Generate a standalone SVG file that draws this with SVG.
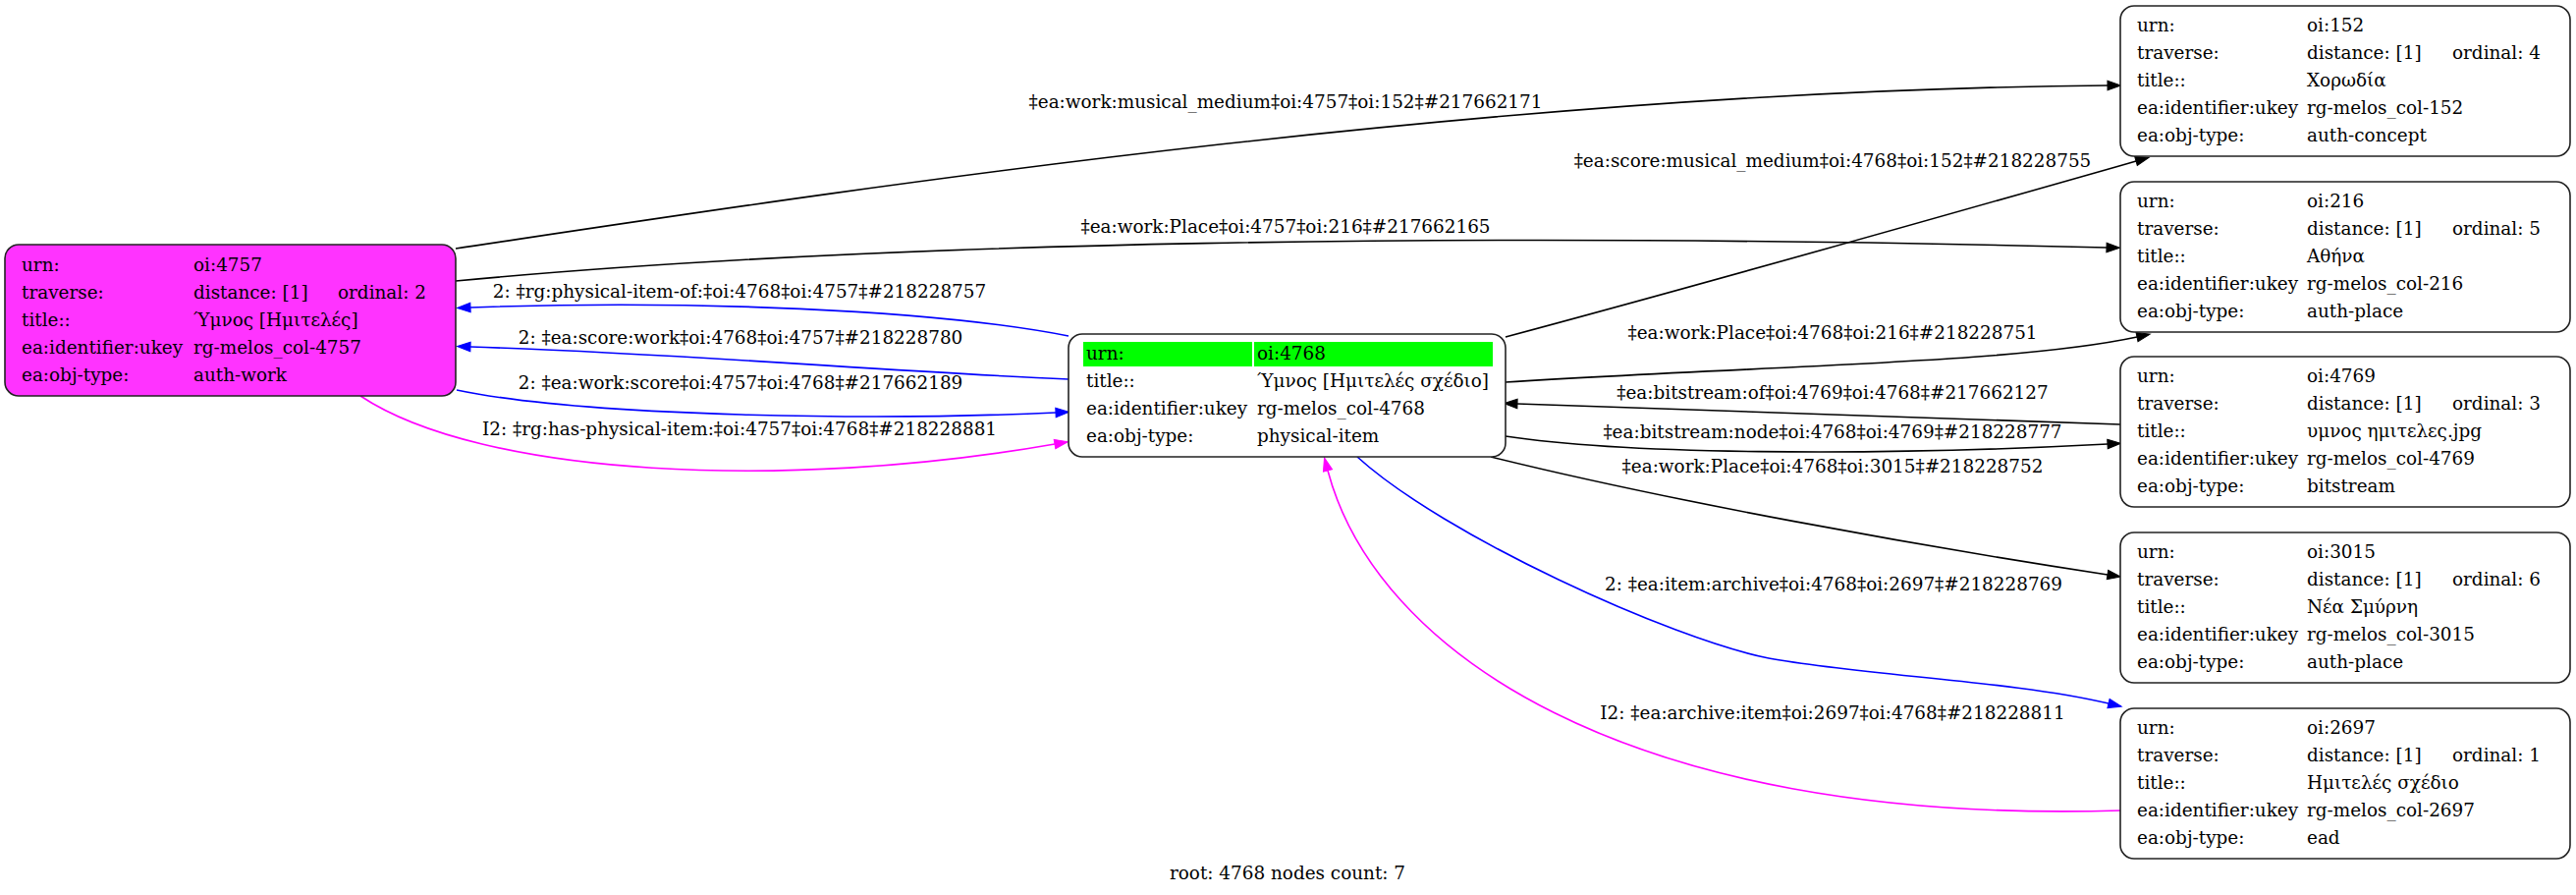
<svg xmlns="http://www.w3.org/2000/svg" width="2623" height="911" viewBox="0 0 2623 911">
<style>
text{font-family:"DejaVu Serif","Liberation Serif",serif;font-size:18.4px;fill:#000}
.box{fill:#fff;stroke:#222;stroke-width:1.6}
.e{fill:none;stroke-width:1.6}
.k{stroke:#000}.b{stroke:#00f}.m{stroke:#f0f}
.lbl{text-anchor:middle}
</style>
<defs>
<marker id="ak" markerUnits="userSpaceOnUse" markerWidth="14" markerHeight="10" refX="0" refY="4.7" orient="auto" overflow="visible"><path d="M0,0L13.5,4.7L0,9.4z" fill="#000" stroke="#000"/></marker>
<marker id="ab" markerUnits="userSpaceOnUse" markerWidth="14" markerHeight="10" refX="0" refY="4.7" orient="auto" overflow="visible"><path d="M0,0L13.5,4.7L0,9.4z" fill="#00f" stroke="#00f"/></marker>
<marker id="am" markerUnits="userSpaceOnUse" markerWidth="14" markerHeight="10" refX="0" refY="4.7" orient="auto" overflow="visible"><path d="M0,0L13.5,4.7L0,9.4z" fill="#f0f" stroke="#f0f"/></marker>
</defs>
<rect width="2623" height="911" fill="#fff"/>
<g id="connectors">
<path class="e k" d="M464,253 C800,203 1500,92 2146,87" marker-end="url(#ak)"/>
<text class="lbl" x="1309" y="110">‡ea:work:musical_medium‡oi:4757‡oi:152‡#217662171</text>
<path class="e k" d="M464,286 C900,245 1500,236 2145,252" marker-end="url(#ak)"/>
<text class="lbl" x="1309" y="237">‡ea:work:Place‡oi:4757‡oi:216‡#217662165</text>
<path class="e b" d="M1088,342 C950,315 700,305 479,313" marker-end="url(#ab)"/>
<text class="lbl" x="753" y="303">2: ‡rg:physical-item-of:‡oi:4768‡oi:4757‡#218228757</text>
<path class="e b" d="M1088,386 C900,378 700,360 479,353" marker-end="url(#ab)"/>
<text class="lbl" x="754" y="350">2: ‡ea:score:work‡oi:4768‡oi:4757‡#218228780</text>
<path class="e b" d="M465,397 C600,425 900,428 1075,420" marker-end="url(#ab)"/>
<text class="lbl" x="754" y="396">2: ‡ea:work:score‡oi:4757‡oi:4768‡#217662189</text>
<path class="e m" d="M367,403 C490,485 800,500 1074,452" marker-end="url(#am)"/>
<text class="lbl" x="753" y="443">I2: ‡rg:has-physical-item:‡oi:4757‡oi:4768‡#218228881</text>
<path class="e k" d="M1533,343 C1750,285 1950,228 2175,164" marker-end="url(#ak)"/>
<text class="lbl" x="1866" y="170">‡ea:score:musical_medium‡oi:4768‡oi:152‡#218228755</text>
<path class="e k" d="M1533,389 C1800,372 2050,370 2176,343" marker-end="url(#ak)"/>
<text class="lbl" x="1866" y="345">‡ea:work:Place‡oi:4768‡oi:216‡#218228751</text>
<path class="e k" d="M2159,432 C1900,424 1700,415 1545,411" marker-end="url(#ak)"/>
<text class="lbl" x="1866" y="406">‡ea:bitstream:of‡oi:4769‡oi:4768‡#217662127</text>
<path class="e k" d="M1533,444 C1650,462 1900,465 2146,452" marker-end="url(#ak)"/>
<text class="lbl" x="1866" y="446">‡ea:bitstream:node‡oi:4768‡oi:4769‡#218228777</text>
<path class="e k" d="M1518,465 C1700,510 1950,555 2146,585" marker-end="url(#ak)"/>
<text class="lbl" x="1866" y="481">‡ea:work:Place‡oi:4768‡oi:3015‡#218228752</text>
<path class="e b" d="M1382,465 C1470,545 1701,650 1801,670 C1900,688 2050,693 2147,716" marker-end="url(#ab)"/>
<text class="lbl" x="1867" y="601">2: ‡ea:item:archive‡oi:4768‡oi:2697‡#218228769</text>
<path class="e m" d="M2159,825 C1650,840 1400,660 1352,479" marker-end="url(#am)"/>
<text class="lbl" x="1866" y="732">I2: ‡ea:archive:item‡oi:2697‡oi:4768‡#218228811</text>
</g>
<g id="n4757">
<rect x="5" y="249" width="459" height="154" rx="14" fill="#ff33ff" stroke="#222" stroke-width="1.6"/>
<text x="22" y="276">urn:</text><text x="197" y="276">oi:4757</text>
<text x="22" y="304">traverse:</text><text x="197" y="304">distance: [1]</text><text x="344" y="304">ordinal: 2</text>
<text x="22" y="332">title::</text><text x="197" y="332">Ύμνος [Ημιτελές]</text>
<text x="22" y="360">ea:identifier:ukey</text><text x="197" y="360">rg-melos_col-4757</text>
<text x="22" y="388">ea:obj-type:</text><text x="197" y="388">auth-work</text>
</g>
<g id="n4768">
<rect class="box" x="1088" y="340" width="445" height="125" rx="14"/>
<rect x="1103" y="348" width="172" height="25" fill="#0f0"/>
<rect x="1277" y="348" width="243" height="25" fill="#0f0"/>
<text x="1106" y="366">urn:</text><text x="1280" y="366">oi:4768</text>
<text x="1106" y="394">title::</text><text x="1280" y="394">Ύμνος [Ημιτελές σχέδιο]</text>
<text x="1106" y="422">ea:identifier:ukey</text><text x="1280" y="422">rg-melos_col-4768</text>
<text x="1106" y="450">ea:obj-type:</text><text x="1280" y="450">physical-item</text>
</g>
<g id="n152">
<rect class="box" x="2159" y="6" width="458" height="153" rx="14"/>
<text x="2176" y="32">urn:</text><text x="2349" y="32">oi:152</text>
<text x="2176" y="60">traverse:</text><text x="2349" y="60">distance: [1]</text><text x="2497" y="60">ordinal: 4</text>
<text x="2176" y="88">title::</text><text x="2349" y="88">Χορωδία</text>
<text x="2176" y="116">ea:identifier:ukey</text><text x="2349" y="116">rg-melos_col-152</text>
<text x="2176" y="144">ea:obj-type:</text><text x="2349" y="144">auth-concept</text>
</g>
<g id="n216">
<rect class="box" x="2159" y="185" width="458" height="153" rx="14"/>
<text x="2176" y="211">urn:</text><text x="2349" y="211">oi:216</text>
<text x="2176" y="239">traverse:</text><text x="2349" y="239">distance: [1]</text><text x="2497" y="239">ordinal: 5</text>
<text x="2176" y="267">title::</text><text x="2349" y="267">Αθήνα</text>
<text x="2176" y="295">ea:identifier:ukey</text><text x="2349" y="295">rg-melos_col-216</text>
<text x="2176" y="323">ea:obj-type:</text><text x="2349" y="323">auth-place</text>
</g>
<g id="n4769">
<rect class="box" x="2159" y="363" width="458" height="153" rx="14"/>
<text x="2176" y="389">urn:</text><text x="2349" y="389">oi:4769</text>
<text x="2176" y="417">traverse:</text><text x="2349" y="417">distance: [1]</text><text x="2497" y="417">ordinal: 3</text>
<text x="2176" y="445">title::</text><text x="2349" y="445">υμνος ημιτελες.jpg</text>
<text x="2176" y="473">ea:identifier:ukey</text><text x="2349" y="473">rg-melos_col-4769</text>
<text x="2176" y="501">ea:obj-type:</text><text x="2349" y="501">bitstream</text>
</g>
<g id="n3015">
<rect class="box" x="2159" y="542" width="458" height="153" rx="14"/>
<text x="2176" y="568">urn:</text><text x="2349" y="568">oi:3015</text>
<text x="2176" y="596">traverse:</text><text x="2349" y="596">distance: [1]</text><text x="2497" y="596">ordinal: 6</text>
<text x="2176" y="624">title::</text><text x="2349" y="624">Νέα Σμύρνη</text>
<text x="2176" y="652">ea:identifier:ukey</text><text x="2349" y="652">rg-melos_col-3015</text>
<text x="2176" y="680">ea:obj-type:</text><text x="2349" y="680">auth-place</text>
</g>
<g id="n2697">
<rect class="box" x="2159" y="721" width="458" height="153" rx="14"/>
<text x="2176" y="747">urn:</text><text x="2349" y="747">oi:2697</text>
<text x="2176" y="775">traverse:</text><text x="2349" y="775">distance: [1]</text><text x="2497" y="775">ordinal: 1</text>
<text x="2176" y="803">title::</text><text x="2349" y="803">Ημιτελές σχέδιο</text>
<text x="2176" y="831">ea:identifier:ukey</text><text x="2349" y="831">rg-melos_col-2697</text>
<text x="2176" y="859">ea:obj-type:</text><text x="2349" y="859">ead</text>
</g>
<text class="lbl" x="1311" y="895">root: 4768 nodes count: 7</text>
</svg>
